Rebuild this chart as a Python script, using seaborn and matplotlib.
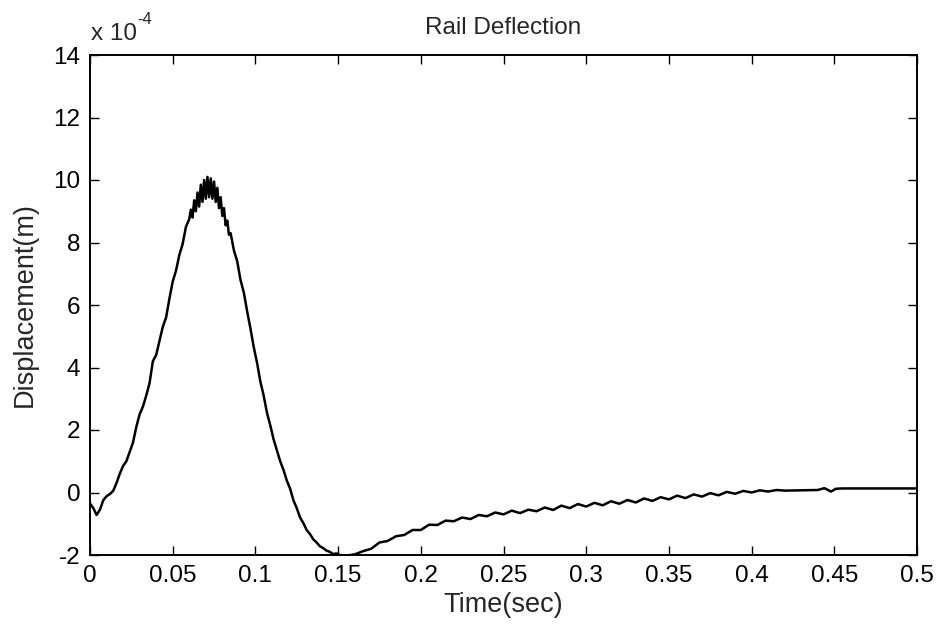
import numpy as np
import pandas as pd
import matplotlib
matplotlib.use("Agg")
import matplotlib.pyplot as plt
import seaborn as sns

# Time (s) and rail deflection (x 1e-4 m)
time_rise = [0.000, 0.002, 0.004, 0.006, 0.008, 0.010, 0.012, 0.014, 0.016, 0.018,
             0.020, 0.022, 0.024, 0.026, 0.028, 0.030, 0.032, 0.034, 0.036, 0.038,
             0.040, 0.042, 0.044, 0.046, 0.048, 0.050, 0.052, 0.054, 0.056, 0.058, 0.060]
disp_rise = [-0.35, -0.50, -0.72, -0.55, -0.25, -0.12, -0.05, 0.05, 0.30, 0.60,
             0.85, 1.00, 1.30, 1.60, 2.10, 2.50, 2.75, 3.10, 3.50, 4.20,
             4.40, 4.85, 5.30, 5.60, 6.20, 6.75, 7.10, 7.60, 7.95, 8.50, 8.75]

time_peak = [0.061, 0.062, 0.063, 0.064, 0.065, 0.066, 0.067, 0.068, 0.069, 0.070,
             0.071, 0.072, 0.073, 0.074, 0.075, 0.076, 0.077, 0.078, 0.079, 0.080,
             0.081, 0.082, 0.083, 0.084, 0.085]
disp_peak = [9.05, 8.80, 9.35, 9.00, 9.60, 9.15, 9.85, 9.30, 10.00, 9.40,
             10.10, 9.45, 10.05, 9.40, 9.95, 9.30, 9.75, 9.10, 9.45, 8.85,
             9.10, 8.55, 8.70, 8.25, 8.30]

time_fall = [0.087, 0.089, 0.091, 0.093, 0.095, 0.097, 0.099, 0.101, 0.103, 0.105,
             0.107, 0.109, 0.111, 0.113, 0.115, 0.117, 0.119, 0.121, 0.123, 0.125,
             0.127, 0.129, 0.131, 0.133, 0.135, 0.137, 0.139, 0.141, 0.143, 0.145,
             0.147, 0.149]
disp_fall = [7.75, 7.40, 6.80, 6.40, 5.80, 5.25, 4.65, 4.15, 3.55, 3.10,
             2.55, 2.15, 1.70, 1.35, 1.00, 0.72, 0.38, 0.12, -0.25, -0.50,
             -0.80, -0.98, -1.20, -1.33, -1.50, -1.60, -1.72, -1.78, -1.86, -1.90,
             -1.97, -1.95]

time_tail = [0.151, 0.155, 0.160, 0.165, 0.170, 0.175, 0.180, 0.185, 0.190, 0.195,
             0.200, 0.205, 0.210, 0.215, 0.220, 0.225, 0.230, 0.235, 0.240, 0.245,
             0.250, 0.255, 0.260, 0.265, 0.270, 0.275, 0.280, 0.285, 0.290, 0.295,
             0.300, 0.305, 0.310, 0.315, 0.320, 0.325, 0.330, 0.335, 0.340, 0.345,
             0.350, 0.355, 0.360, 0.365, 0.370, 0.375, 0.380, 0.385, 0.390, 0.395,
             0.400, 0.405, 0.410, 0.415, 0.420, 0.430, 0.440, 0.444, 0.448, 0.451,
             0.455, 0.500]
disp_tail = [-2.00, -2.02, -1.98, -1.88, -1.80, -1.60, -1.55, -1.40, -1.36, -1.20,
             -1.20, -1.03, -1.04, -0.90, -0.92, -0.80, -0.85, -0.72, -0.76, -0.64,
             -0.70, -0.58, -0.66, -0.55, -0.60, -0.48, -0.56, -0.42, -0.50, -0.37,
             -0.45, -0.33, -0.41, -0.28, -0.36, -0.24, -0.32, -0.19, -0.27, -0.15,
             -0.22, -0.10, -0.18, -0.06, -0.13, -0.02, -0.09, 0.02, -0.04, 0.05,
             0.00, 0.07, 0.03, 0.08, 0.06, 0.07, 0.08, 0.14, 0.03, 0.12,
             0.13, 0.13]

x_ticks = [0, 0.05, 0.1, 0.15, 0.2, 0.25, 0.3, 0.35, 0.4, 0.45, 0.5]
x_tick_labels = ["0", "0.05", "0.1", "0.15", "0.2", "0.25", "0.3", "0.35", "0.4", "0.45", "0.5"]
y_ticks = [-2, 0, 2, 4, 6, 8, 10, 12, 14]

df = pd.DataFrame({
    "t": time_rise + time_peak + time_fall + time_tail,
    "d": disp_rise + disp_peak + disp_fall + disp_tail,
})

sns.set_style("ticks")
plt.rcParams["font.family"] = ["Liberation Sans", "DejaVu Sans"]
plt.rcParams["axes.unicode_minus"] = False

fig = plt.figure(figsize=(9.4, 6.33), dpi=100)
ax = fig.add_axes([90 / 940, 1 - 555 / 633, (917 - 90) / 940, (555 - 55) / 633])

sns.lineplot(data=df, x="t", y="d", ax=ax, estimator=None, sort=False,
             color="black", linewidth=1.8)

ax.set_xlim(0, 0.5)
ax.set_ylim(-2, 14)
ax.set_xticks(x_ticks)
ax.set_xticklabels(x_tick_labels)
ax.set_yticks(y_ticks)
ax.set_yticklabels([str(v) for v in y_ticks])
ax.tick_params(direction="in", length=6.5, width=1.0, top=True, right=True,
               labelsize=17.5, pad=7, colors="black")
for s in ax.spines.values():
    s.set_visible(True)
    s.set_linewidth(1.4)
    s.set_color("black")

ax.set_xlabel("Time(sec)", fontsize=19.5, labelpad=4)
ax.set_ylabel("Displacement(m)", fontsize=19.5, labelpad=11)
ax.set_title("Rail Deflection", fontsize=17.5, pad=15)
ax.annotate("x 10", xy=(0, 1), xycoords="axes fraction", xytext=(1, 7),
            textcoords="offset points", fontsize=17.5, ha="left", va="bottom")
ax.annotate("-4", xy=(0, 1), xycoords="axes fraction", xytext=(34, 20),
            textcoords="offset points", fontsize=12, ha="left", va="bottom")

fig.savefig("out.png", dpi=100)
